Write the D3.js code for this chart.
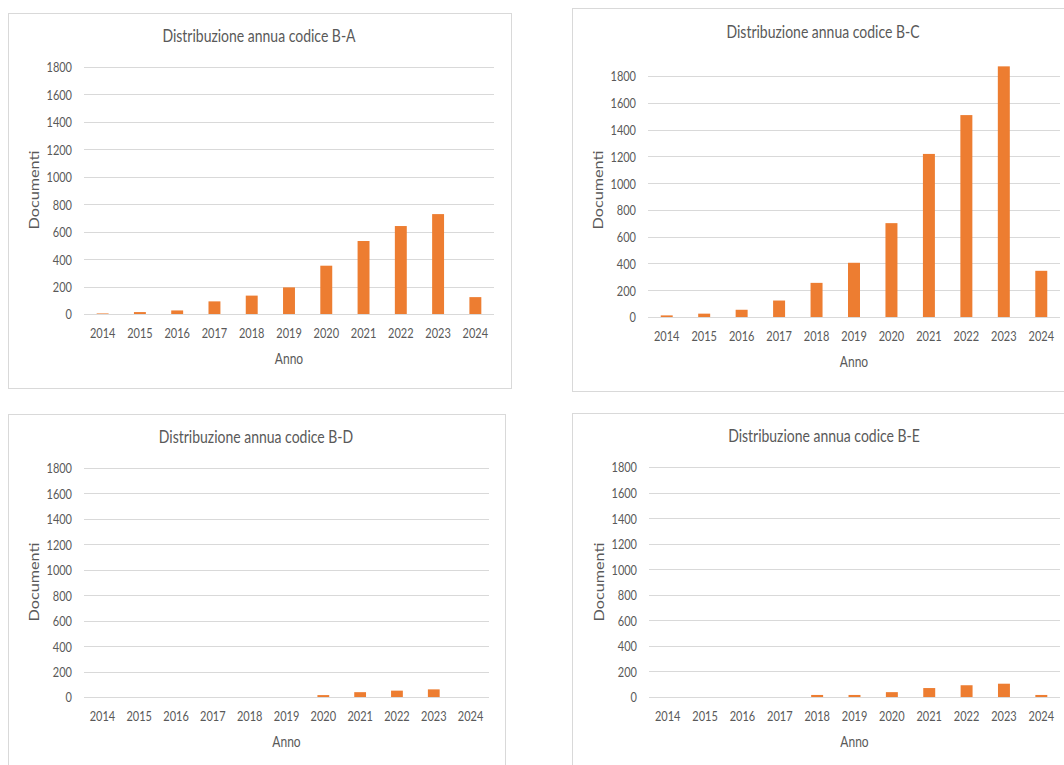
<!DOCTYPE html>
<html>
<head>
<meta charset="utf-8">
<script src="https://cdn.jsdelivr.net/npm/d3@7"></script>
<style>
  html, body { margin: 0; padding: 0; background: #ffffff; }
  svg { display: block; }
</style>
</head>
<body>
<svg id="chart" width="1064" height="765"></svg>
<script>
// Years on the category axis
const years = ["2014", "2015", "2016", "2017", "2018", "2019", "2020", "2021", "2022", "2023", "2024"];

// Documents per year for each code
const docsBA = [4, 14, 26, 92, 134, 194, 352, 532, 641, 728, 123];
const docsBC = [12, 25, 54, 123, 255, 405, 701, 1218, 1508, 1872, 345];
const docsBD = [0, 0, 0, 0, 0, 0, 15, 38, 50, 60, 0];
const docsBE = [0, 0, 0, 0, 16, 16, 38, 70, 92, 104, 16];

// Value-axis tick labels
const yTicks = [0, 200, 400, 600, 800, 1000, 1200, 1400, 1600, 1800];

const titles = [
  "Distribuzione annua codice B-A",
  "Distribuzione annua codice B-C",
  "Distribuzione annua codice B-D",
  "Distribuzione annua codice B-E"
];
const series = [docsBA, docsBC, docsBD, docsBE];

// Panel frames and plot areas
const layouts = [
  { frame: [8.5, 13.5, 503, 375], plot: [84, 494, 67, 314], titleX: 259, titleY: 35, docX: 34, docY: 190, annoY: 358 },
  { frame: [572.5, 8.5, 520, 383], plot: [648, 1060, 76, 317], titleX: 823, titleY: 31, docX: 598, docY: 190, annoY: 361 },
  { frame: [8.5, 414.5, 497, 400], plot: [84, 489, 468, 697], titleX: 256, titleY: 436, docX: 34, docY: 582, annoY: 741 },
  { frame: [572.5, 413.5, 520, 400], plot: [649, 1060, 467, 697], titleX: 824, titleY: 435, docX: 599, docY: 582, annoY: 741 }
];

const BAR = "#ED7D31";
const GRID = "#d9d9d9";
const TEXT = "#595959";
const FONT = "Lato, 'Open Sans', sans-serif";
const STRETCH = 1.25; // tall, condensed-looking lettering

const svg = d3.select("#chart");

function label(g, x, y, str, size, rotate) {
  const t = g.append("g")
    .attr("transform", `translate(${x},${y}) scale(1,${STRETCH})` + (rotate ? " rotate(-90)" : ""));
  t.append("text")
    .attr("text-anchor", "middle")
    .attr("dominant-baseline", "central")
    .attr("font-family", FONT)
    .attr("font-size", size)
    .attr("fill", TEXT)
    .text(str);
}

layouts.forEach((L, i) => {
  const g = svg.append("g");
  const [fx, fy, fw, fh] = L.frame;
  const [x0, x1, yTop, yBot] = L.plot;

  g.append("rect")
    .attr("x", fx).attr("y", fy).attr("width", fw).attr("height", fh)
    .attr("fill", "#ffffff").attr("stroke", GRID).attr("stroke-width", 1);

  const x = d3.scaleBand().domain(years).range([x0, x1]).paddingInner(0.68).paddingOuter(0.34);
  const y = d3.scaleLinear().domain([0, 1800]).range([yBot, yTop]);

  // horizontal gridlines
  g.append("g").selectAll("line").data(yTicks).join("line")
    .attr("x1", x0).attr("x2", x1)
    .attr("y1", d => Math.round(y(d)) + 0.5).attr("y2", d => Math.round(y(d)) + 0.5)
    .attr("stroke", GRID).attr("stroke-width", 1);

  // bars
  const data = years.map((yr, k) => ({ yr, v: series[i][k] }));
  g.append("g").selectAll("rect").data(data).join("rect")
    .attr("x", d => x(d.yr))
    .attr("width", x.bandwidth())
    .attr("y", d => y(d.v))
    .attr("height", d => y(0) - y(d.v))
    .attr("fill", BAR);

  // value axis
  const ya = g.append("g")
    .attr("transform", `translate(${x0 - 12},0)`)
    .call(d3.axisLeft(y).tickValues(yTicks).tickSize(0).tickPadding(0).tickFormat(d3.format("d")));
  ya.select(".domain").remove();
  ya.selectAll("text")
    .attr("x", 0).attr("dy", null)
    .attr("dominant-baseline", "central")
    .attr("transform", `scale(1,${STRETCH})`)
    .attr("font-family", FONT).attr("font-size", 11).attr("fill", TEXT);

  // category axis
  const xa = g.append("g")
    .attr("transform", `translate(0,${yBot + 19})`)
    .call(d3.axisBottom(x).tickSize(0).tickPadding(0));
  xa.select(".domain").remove();
  xa.selectAll("text")
    .attr("y", 0).attr("dy", null)
    .attr("dominant-baseline", "central")
    .attr("transform", `scale(1,${STRETCH})`)
    .attr("font-family", FONT).attr("font-size", 11).attr("fill", TEXT);

  label(g, L.titleX, L.titleY, titles[i], 14, false);
  label(g, (x0 + x1) / 2, L.annoY, "Anno", 12, false);
  label(g, L.docX, L.docY, "Documenti", 13, true);
});
</script>
</body>
</html>
